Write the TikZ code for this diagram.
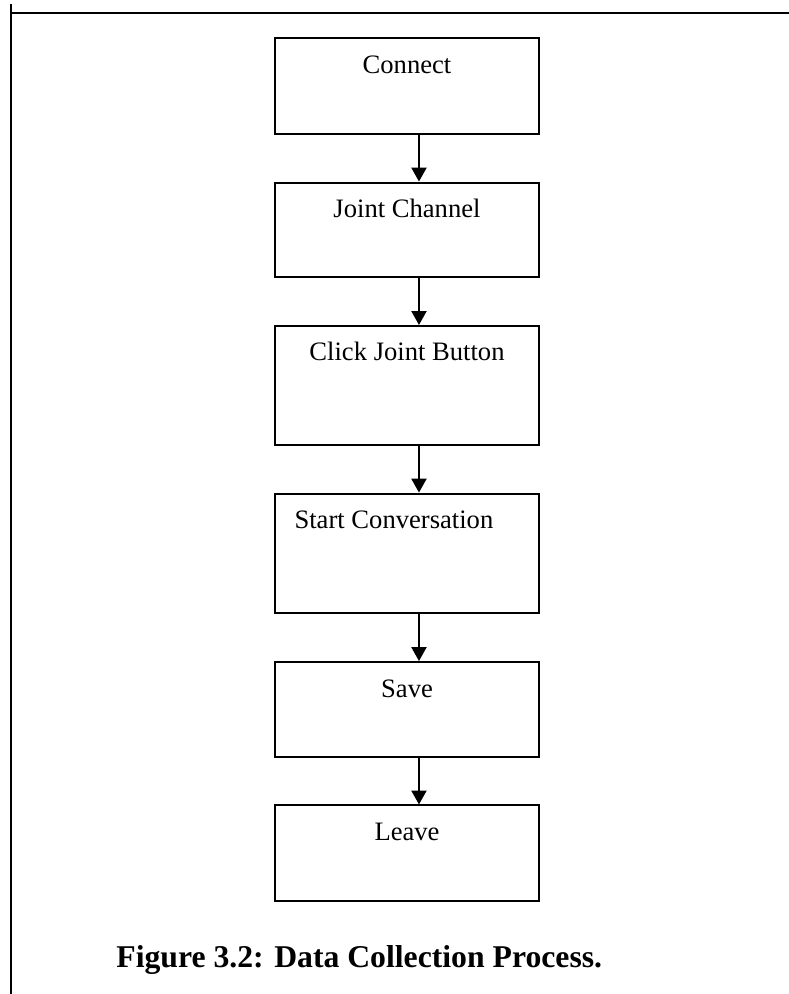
\documentclass[tikz,border=0pt]{standalone}
\usepackage{fontspec}
\setmainfont{Liberation Serif}
\usepackage{tikz}
\usetikzlibrary{arrows.meta,positioning}

\begin{document}
\begin{tikzpicture}[>={Triangle[width=6.8pt,length=6.3pt]}, node distance=21.0pt,
  stage/.style={draw, line width=0.9pt, minimum width=119pt, inner ysep=0pt, text height=15.8pt, font=\fontsize{12pt}{14pt}\selectfont}]

\useasboundingbox (0,0) rectangle (355.9pt,-448.4pt);

\draw[line width=0.9pt] (5pt,-1.8pt) -- (5pt,-448.4pt);
\draw[line width=0.9pt] (5pt,-5.9pt) -- (355.9pt,-5.9pt);

\node[stage,anchor=north] (A) at (183.6pt,-16.7pt) [text depth=27.5pt]  {Connect};
\node[stage]         (B) [below=of A, text depth=27pt]           {Joint Channel};
\node[stage]         (C) [below=of B, text depth=37.9pt]         {Click Joint Button};
\node[stage]         (D) [below=of C, text depth=38.3pt]         {Start Conversation\kern11.8pt};
\node[stage]         (E) [below=of D, text depth=27pt]           {Save};
\node[stage]         (F) [below=of E, text depth=27.5pt]         {Leave};

\node[anchor=base west, inner sep=0pt, font=\bfseries\fontsize{14.3pt}{17pt}\selectfont] (T) at (52.3pt,-436.6pt)
      {Figure 3.2: Data Collection Process.};

\path[->, line width=0.9pt]
      ([xshift=5.4pt]A.south) edge ([xshift=5.4pt]B.north)
      ([xshift=5.4pt]B.south) edge ([xshift=5.4pt]C.north)
      ([xshift=5.4pt]C.south) edge ([xshift=5.4pt]D.north)
      ([xshift=5.4pt]D.south) edge ([xshift=5.4pt]E.north)
      ([xshift=5.4pt]E.south) edge ([xshift=5.4pt]F.north);
\end{tikzpicture}
\end{document}
